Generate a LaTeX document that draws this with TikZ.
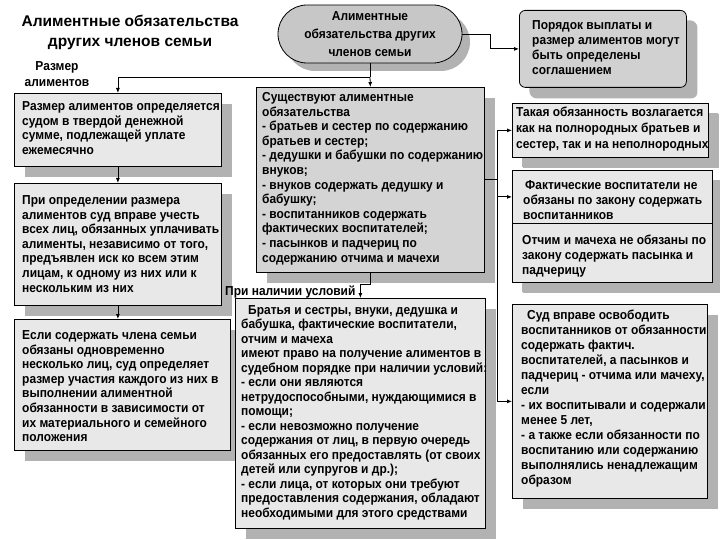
\documentclass[tikz,border=0pt]{standalone}
\usepackage{fontspec}
\setmainfont{Liberation Sans}
\newfontfamily\condfont{Liberation Sans}[FakeStretch=0.92]
\usetikzlibrary{shadows,arrows.meta}
\definecolor{lbox}{gray}{0.91}
\definecolor{dbox}{gray}{0.83}
\definecolor{tbox}{gray}{0.82}
\definecolor{sbox}{gray}{0.78}
\definecolor{shd}{gray}{0.70}
\newcommand\bxfont[1]{\condfont\fontsize{13}{#1}\selectfont\bfseries}
\begin{document}
\begin{tikzpicture}[x=1pt,y=-1pt,
  frame/.style={draw=black, line width=0.8pt, anchor=north west, inner sep=0pt,
    drop shadow={shadow xshift=11pt, shadow yshift=-11pt, fill=shd, opacity=1}},
  txt/.style={anchor=north west, align=left, inner sep=0pt, font=\bxfont{14.6}},
  conn/.style={line width=0.8pt},
  arr/.style={conn, -{Latex[length=5pt,width=4pt]}},
]
\useasboundingbox (0,0) rectangle (720,540);

% title
\node[align=center, font={\fontsize{15.5}{20}\selectfont\bfseries}] (title) at (130,32)
  {Алиментные обязательства\\других членов семьи};

% central stadium
\node[draw=black, line width=0.8pt, fill=sbox, rounded corners=29pt,
  minimum width=184pt, minimum height=58pt, align=center, inner sep=0pt,
  font=\bxfont{18},
  drop shadow={shadow xshift=8pt, shadow yshift=-8pt, fill=shd, opacity=1}] (st) at (370,34)
  {Алиментные\\обязательства других\\членов семьи};

% top right box
\node[frame, fill=tbox, rounded corners=6pt, minimum width=167pt, minimum height=77pt,
  drop shadow={shadow xshift=10pt, shadow yshift=-10pt, fill=shd, opacity=1}] (TR) at (519,10) {};
\node[txt, font=\bxfont{15}] (TRt) at (532,19) {\strut Порядок выплаты и\\размер алиментов могут\\быть определены\\соглашением};

% label
\node[align=center, font=\bxfont{16}, inner sep=0pt] (razm) at (57,74) {Размер\\алиментов};

% left column
\node[frame, fill=lbox, minimum width=207pt, minimum height=73pt] (L1) at (14,93) {};
\node[txt] (L1t) at (22,100) {\strut Размер алиментов определяется\\судом в твердой денежной\\сумме, подлежащей уплате\\ежемесячно};

\node[frame, fill=lbox, minimum width=207pt, minimum height=122pt] (L2) at (14,183) {};
\node[txt] (L2t) at (22,194) {\strut При определении размера\\алиментов суд вправе учесть\\всех лиц, обязанных уплачивать\\алименты, независимо от того,\\предъявлен иск ко всем этим\\лицам, к одному из них или к\\нескольким из них};

\node[frame, fill=lbox, minimum width=216pt, minimum height=131pt] (L3) at (14,319) {};
\node[txt] (L3t) at (22,329) {\strut Если содержать члена семьи\\обязаны одновременно\\несколько лиц, суд определяет\\размер участия каждого из них в\\выполнении алиментной\\обязанности в зависимости от\\их материального и семейного\\положения};

% center column
\node[frame, fill=dbox, minimum width=228pt, minimum height=185pt] (A) at (256,87) {};
\node[txt] (At) at (262,91) {\strut Существуют алиментные\\обязательства\\- братьев и сестер по содержанию\\братьев и сестер;\\- дедушки и бабушки по содержанию\\внуков;\\- внуков содержать дедушку и\\бабушку;\\- воспитанников содержать\\фактических воспитателей;\\- пасынков и падчериц по\\содержанию отчима и мачехи};

\node[frame, fill=lbox, minimum width=250pt, minimum height=230pt] (B) at (235,298) {};
\node[txt, font=\bxfont{14.5}] (Bt) at (241,304) {\strut\hspace*{7pt}Братья и сестры, внуки, дедушка и\\бабушка, фактические воспитатели,\\отчим и мачеха\\имеют право на получение алиментов в\\судебном порядке при наличии условий:\\- если они являются\\нетрудоспособными, нуждающимися в\\помощи;\\- если невозможно получение\\содержания от лиц, в первую очередь\\обязанных его предоставлять (от своих\\детей или супругов и др.);\\- если лица, от которых они требуют\\предоставления содержания, обладают\\необходимыми для этого средствами};

\node[anchor=west, font=\bxfont{15}, inner sep=0pt] (cond) at (225,292) {При наличии условий};

% right column
\node[frame, fill=lbox, minimum width=196pt, minimum height=54pt,
  drop shadow={shadow xshift=10pt, shadow yshift=-10pt, fill=shd, opacity=1}] (R1) at (512,103) {};
\node[txt, font=\bxfont{16}] (R1t) at (516,105) {\strut Такая обязанность возлагается\\как на полнородных братьев и\\сестер, так и на неполнородных};

\node[frame, fill=lbox, minimum width=200pt, minimum height=53pt,
  drop shadow={shadow xshift=10pt, shadow yshift=-10pt, fill=shd, opacity=1}] (R2a) at (512,170) {};
\node[frame, fill=lbox, minimum width=200pt, minimum height=59pt,
  drop shadow={shadow xshift=10pt, shadow yshift=-10pt, fill=shd, opacity=1}] (R2b) at (512,223) {};
\node[txt, font=\bxfont{15}] (R2at) at (523,179) {\strut\hspace*{2pt}Фактические воспитатели не\\обязаны по закону содержать\\воспитанников};
\node[txt, font=\bxfont{15}] (R2bt) at (522,234) {\strut Отчим и мачеха не обязаны по\\закону содержать пасынка и\\падчерицу};

\node[frame, fill=lbox, minimum width=195pt, minimum height=194pt,
  drop shadow={shadow xshift=11pt, shadow yshift=-11pt, fill=shd, opacity=1}] (R3) at (512,304) {};
\node[txt, font=\bxfont{15}] (R3t) at (521,309) {\strut\hspace*{6pt}Суд вправе освободить\\воспитанников от обязанности\\содержать фактич.\\воспитателей, а пасынков и\\падчериц - отчима или мачеху,\\если\\- их воспитывали и содержали\\менее 5 лет,\\- а также если обязанности по\\воспитанию или содержанию\\выполнялись ненадлежащим\\образом};

% connectors
\coordinate (j1) at (370,77);
\draw[conn] (st.south) -- (j1);
\draw[arr] (j1) -| (L1.north);
\draw[arr] (j1) -- (A.north);
\draw[arr] (st.east) -- ++(28,0) |- (TR.west);
\draw[arr] (L1.south) -- (L2.north);
\draw[arr] (L2.south) -- (L2.south |- L3.north);
\draw[arr] (A.south) -- ++(0,12) -| (B.north);
\coordinate (t) at (497,0);
\draw[conn] (A.east) -- (A.east -| t);
\draw[arr] (A.east -| t) |- (R1.west);
\draw[arr] (A.east -| t) |- (R2a.west);
\draw[arr] (A.east -| t) |- (R3.west);
\end{tikzpicture}
\end{document}
